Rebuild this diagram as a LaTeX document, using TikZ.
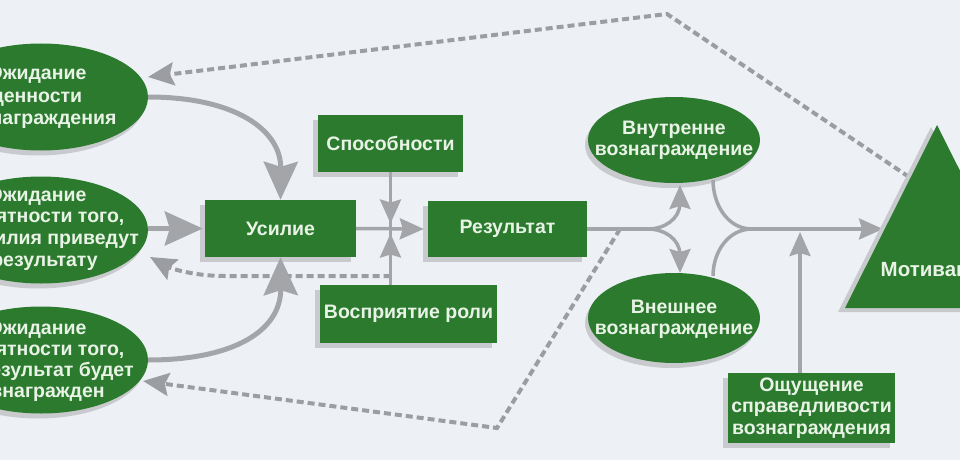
\documentclass[tikz,border=0pt]{standalone}
\usepackage{fontspec}
\setmainfont{Liberation Sans}
\usetikzlibrary{shapes.geometric,arrows.meta,shadows}
\definecolor{bg}{HTML}{EDF1F6}
\definecolor{grn}{HTML}{2B7A2E}
\definecolor{shd}{HTML}{C8CACD}
\definecolor{arr}{HTML}{A4A5A8}
\definecolor{dsh}{HTML}{9C9DA0}
\definecolor{txt}{HTML}{E8F3E6}
\tikzset{
  box/.style={rectangle, fill=grn, inner sep=0pt, text=txt, align=center,
    font=\bfseries\fontsize{19.5}{21.5}\selectfont,
    drop shadow={shadow xshift=-5pt, shadow yshift=-5pt, fill=shd, opacity=1}},
  ell/.style={ellipse, fill=grn, inner sep=0pt,
    drop shadow={shadow xshift=-3pt, shadow yshift=-5pt, fill=shd, opacity=1}},
  lbl/.style={text=txt, align=center, inner sep=0pt,
    font=\bfseries\fontsize{19.5}{22}\selectfont},
  bigarrow/.style={draw=arr, line width=5pt, -{Stealth[length=38pt,width=34pt,inset=5pt]}},
  thinline/.style={draw=arr, line width=3.5pt},
  smallarrow/.style={draw=arr, line width=3.5pt, -{Stealth[length=24pt,width=21pt,inset=3pt]}},
  dashline/.style={draw=dsh, line width=4pt, dash pattern=on 7pt off 4pt,
    -{Stealth[length=26pt,width=23pt,inset=4pt]}}
}
\begin{document}
\begin{tikzpicture}[x=1pt,y=-1pt]
\fill[bg] (0,0) rectangle (960,460);
\path[use as bounding box] (0,0) rectangle (960,460);
\clip (0,0) rectangle (960,460);

% left ellipses
\node[ell, minimum width=214pt, minimum height=107pt] (e1) at (41,97) {};
\node[ell, minimum width=214pt, minimum height=107pt] (e2) at (41,230) {};
\node[ell, minimum width=214pt, minimum height=107pt] (e3) at (41,360) {};
\node[lbl, font=\bfseries\fontsize{19.5}{22.5}\selectfont] (e1t) at (37,97.5) {Ожидание\\ценности\\вознаграждения};
\node[lbl, font=\bfseries\fontsize{19.5}{21.7}\selectfont] (e2t) at (37,229) {Ожидание\\вероятности того,\\что усилия приведут\\к результату};
\node[lbl, font=\bfseries\fontsize{19.5}{21}\selectfont] (e3t) at (37,361) {Ожидание\\вероятности того,\\что результат будет\\вознагражден};

% boxes
\node[box, minimum width=151pt, minimum height=57pt] (usil) at (280.5,228.5) {Усилие};
\node[box, minimum width=145pt, minimum height=57pt] (sposob) at (390.5,143.5) {Способности};
\node[box, minimum width=159pt, minimum height=56pt] (res) at (507.5,229) {Результат};
\node[box, minimum width=177pt, minimum height=58pt] (vospr) at (408.5,314) {Восприятие роли};
\node[box, minimum width=167pt, minimum height=70pt] (osh) at (811.5,408) {Ощущение\\справедливости\\вознаграждения};

% right ellipses
\node[ell, minimum width=172pt, minimum height=86pt] (vnut) at (674,140) {};
\node[ell, minimum width=172pt, minimum height=90pt] (vnesh) at (674,318) {};
\node[lbl, font=\bfseries\fontsize{19.5}{21}\selectfont] (vnutt) at (674,140) {Внутренне\\вознаграждение};
\node[lbl, font=\bfseries\fontsize{19.5}{21}\selectfont] (vnesht) at (674,319) {Внешнее\\вознаграждение};

% coordinates
\coordinate (X) at (390.5,228.5);
\coordinate (vosprTop) at (390.5,285);
\coordinate (d1s) at (390.5,276);
\coordinate (d1m) at (225,276);
\coordinate (e2in) at (150,257);
\coordinate (motTop) at (909,177);
\coordinate (peak) at (667,14);
\coordinate (e1in) at (148,77);
\coordinate (d3s) at (620,229);
\coordinate (corner) at (497,428);
\coordinate (e3in) at (143,381);
\coordinate (split) at (648,229);
\coordinate (merge) at (752,229);
\coordinate (upTurn) at (680,203);
\coordinate (vnutIn) at (680,185);
\coordinate (dnTurn) at (680,255);
\coordinate (vneshIn) at (680,273);
\coordinate (vnutOut) at (713,180);
\coordinate (vneshOut) at (713,276);
\coordinate (motIn) at (883,229);
\coordinate (oshTop) at (800,373);
\coordinate (oshTip) at (800,232);

% dashed feedback lines
\draw[dashline] (d1s) -- (d1m) .. controls (190,276) and (168,267) .. (e2in);
\draw[dashline] (motTop) -- (peak) -- (e1in);
\draw[dashline] (d3s) -- (corner) -- (e3in);

% big arrows into effort
\draw[bigarrow] (e1.east) .. controls (235,97) and (281,130) .. (usil.north);
\draw[bigarrow] (e2.east |- usil.west) -- ([xshift=-2pt]usil.west);
\draw[bigarrow] (e3.east) .. controls (235,360) and (281,330) .. (usil.south);

% crossing
\draw[thinline] (sposob.south) -- (vosprTop);
\draw[smallarrow] (sposob.south) -- ([yshift=5pt]X);
\draw[smallarrow] (vosprTop) -- ([yshift=-5pt]X);
\draw[smallarrow] (usil.east) -- ([xshift=-4pt]res.west);

% right part
\draw[thinline] (res.east) -- (split);
\draw[smallarrow] (split) to[out=0,in=-90] (upTurn) -- (vnutIn);
\draw[smallarrow] (split) to[out=0,in=90] (dnTurn) -- (vneshIn);
\draw[thinline] (vnutOut) to[out=-90,in=180] (merge);
\draw[thinline] (vneshOut) to[out=90,in=180] (merge);
\draw[smallarrow] (merge) -- (motIn);
\draw[smallarrow] (oshTop) -- (oshTip);

% motivation triangle
\fill[shd] (931,127) -- (838,312) -- (1030,312) -- cycle;
\fill[grn] (937,125) -- (845,308) -- (1029,308) -- cycle;
\node[lbl, font=\bfseries\fontsize{20.5}{24}\selectfont] (mot) at (937,271) {Мотивация};
\end{tikzpicture}
\end{document}
